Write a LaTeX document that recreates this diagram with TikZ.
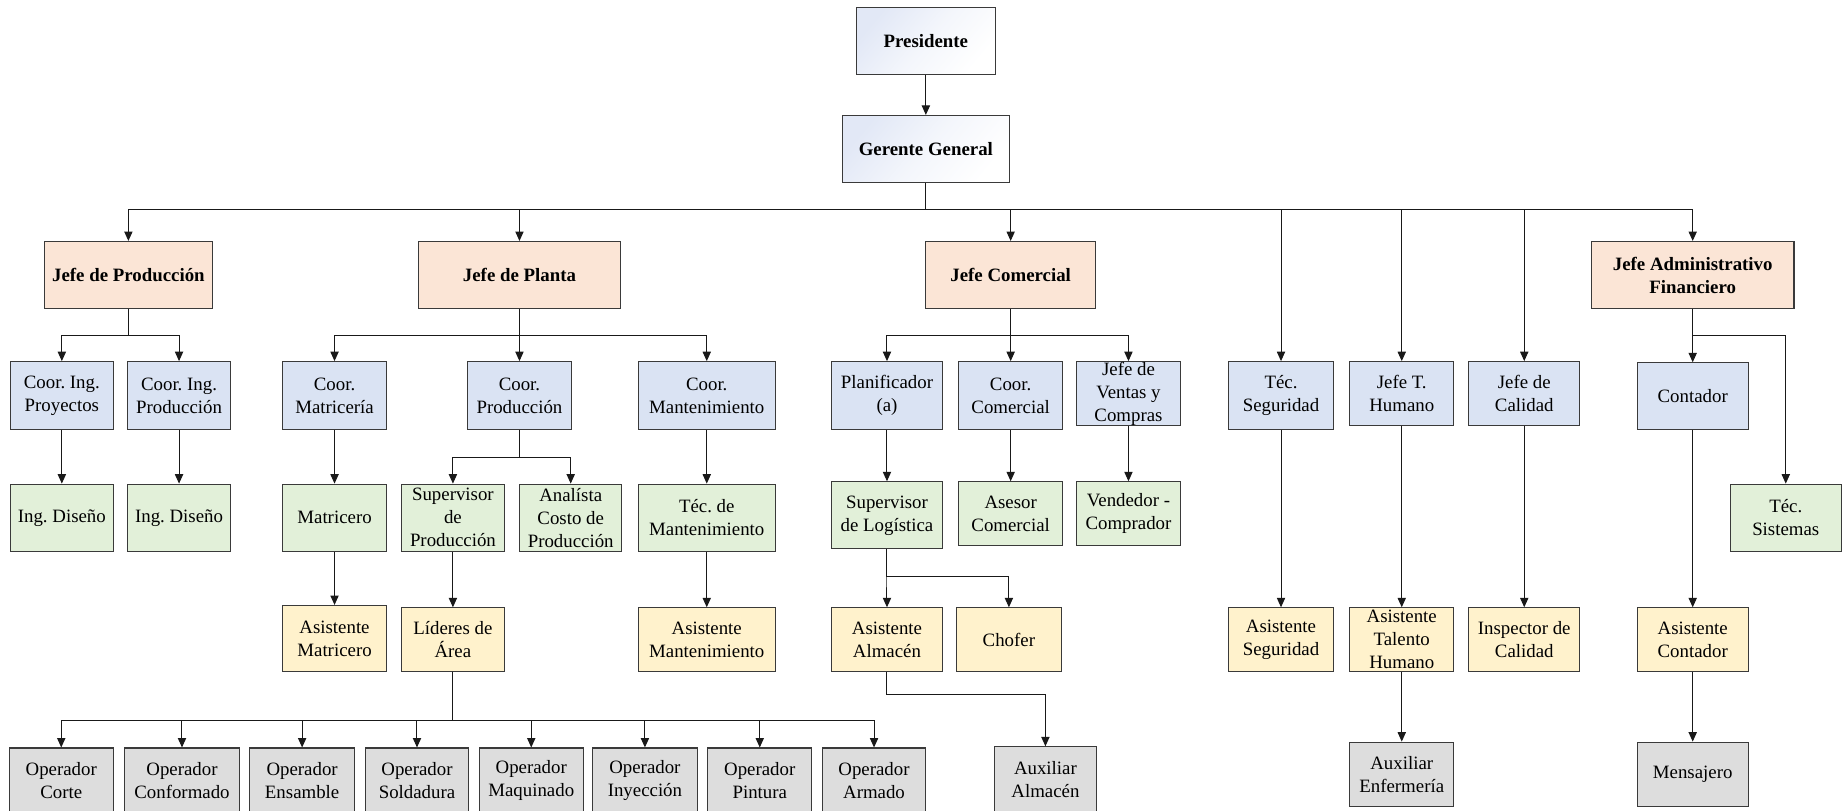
\documentclass[tikz,border=0pt]{standalone}
\usepackage{fontspec}
\setmainfont{Liberation Serif}
\usetikzlibrary{arrows.meta}

\definecolor{cTop}{HTML}{E2E8F6}
\definecolor{cJefe}{HTML}{FBE5D6}
\definecolor{cCoor}{HTML}{DAE3F3}
\definecolor{cGreen}{HTML}{E2F0D9}
\definecolor{cYellow}{HTML}{FFF2CC}
\definecolor{cGray}{HTML}{DDDDDD}
\definecolor{cEdge}{HTML}{3A3A3A}

% box: style, text style, name, x1, y1, x2, y2, text
\newcommand\orgbox[8]{%
  \node[#1, minimum width={#6-#4}, minimum height={#7-#5},
        label={[#2]center:{#8}}] (#3) at ({(#4+#6)/2},{(#5+#7)/2}) {};}
% elbow link from a parent to a child through the bus level #3
\newcommand\buslink[3]{%
  \draw[arr] (#1.south) |- (#2.north |- #3) -- (#2.north);}

\begin{document}
\frenchspacing
\begin{tikzpicture}[x=1pt, y=-1pt,
  box/.style={rectangle, draw=cEdge, line width=0.9pt, inner sep=0pt},
  topbox/.style={box, top color=cTop, bottom color=white, middle color=white!60!cTop, shading angle=50},
  jefebox/.style={box, fill=cJefe},
  coorbox/.style={box, fill=cCoor},
  greenbox/.style={box, fill=cGreen},
  yellowbox/.style={box, fill=cYellow},
  graybox/.style={box, fill=cGray},
  txt/.style={align=center, inner sep=0pt, font=\fontsize{16}{19.5}\selectfont},
  btxt/.style={txt, font=\fontsize{16}{19.5}\selectfont\bfseries},
  arr/.style={draw=black!90, line width=0.85pt, -{Triangle[length=8pt,width=7pt]}}]

\fill[white] (0,0) rectangle (1568,688);
\useasboundingbox (0,0) rectangle (1568,688);

% bus levels
\coordinate (yA) at (0,178);
\coordinate (yB) at (0,285);
\coordinate (yC) at (0,388);
\coordinate (yD) at (0,489);
\coordinate (yE) at (0,612);
\coordinate (yF) at (0,590);

% top
\orgbox{topbox}{btxt}{pres}{727}{6}{845}{63}{Presidente}
\orgbox{topbox}{btxt}{gg}{715}{98}{857}{155}{Gerente General}

% heads of area
\orgbox{jefebox}{btxt}{jprod}{38}{205}{180}{262}{Jefe de Producción}
\orgbox{jefebox}{btxt}{jplanta}{355}{205}{527}{262}{Jefe de Planta}
\orgbox{jefebox}{btxt}{jcom}{786}{205}{930}{262}{Jefe Comercial}
\orgbox{jefebox}{btxt}{jadm}{1351}{205}{1523}{262}{Jefe Administrativo\\Financiero}

% second level
\orgbox{coorbox}{txt}{cip}{9}{307}{96}{365}{Coor. Ing.\\Proyectos}
\orgbox{coorbox}{txt}{cipr}{108}{307}{196}{365}{Coor. Ing.\\Producción}
\orgbox{coorbox}{txt}{cmat}{240}{307}{328}{365}{Coor.\\Matricería}
\orgbox{coorbox}{txt}{cprod}{397}{307}{485}{365}{Coor.\\Producción}
\orgbox{coorbox}{txt}{cmant}{542}{307}{658}{365}{Coor.\\Mantenimiento}
\orgbox{coorbox}{txt}{plan}{706}{307}{800}{365}{Planificador\\(a)}
\orgbox{coorbox}{txt}{ccom}{814}{307}{902}{365}{Coor.\\Comercial}
\orgbox{coorbox}{txt}{jvc}{914}{307}{1002}{361}{Jefe de\\Ventas y\\Compras}
\orgbox{coorbox}{txt}{tseg}{1043}{307}{1132}{365}{Téc.\\Seguridad}
\orgbox{coorbox}{txt}{jth}{1146}{307}{1234}{361}{Jefe T.\\Humano}
\orgbox{coorbox}{txt}{jcal}{1247}{307}{1341}{361}{Jefe de\\Calidad}
\orgbox{coorbox}{txt}{cont}{1390}{308}{1484}{365}{Contador}

% third level
\orgbox{greenbox}{txt}{ing1}{9}{411}{96}{468}{Ing. Diseño}
\orgbox{greenbox}{txt}{ing2}{108}{411}{196}{468}{Ing. Diseño}
\orgbox{greenbox}{txt}{matr}{240}{411}{328}{468}{Matricero}
\orgbox{greenbox}{txt}{supp}{341}{411}{428}{468}{Supervisor\\de\\Producción}
\orgbox{greenbox}{txt}{anal}{441}{411}{528}{468}{Analísta\\Costo de\\Producción}
\orgbox{greenbox}{txt}{tmant}{542}{411}{658}{468}{Téc. de\\Mantenimiento}
\orgbox{greenbox}{txt}{slog}{706}{409}{800}{466}{Supervisor\\de Logística}
\orgbox{greenbox}{txt}{ases}{814}{409}{902}{463}{Asesor\\Comercial}
\orgbox{greenbox}{txt}{vend}{914}{409}{1002}{463}{Vendedor -\\Comprador}
\orgbox{greenbox}{txt}{tsis}{1469}{411}{1563}{468}{Téc.\\Sistemas}

% fourth level
\orgbox{yellowbox}{txt}{amatr}{240}{514}{328}{570}{Asistente\\Matricero}
\orgbox{yellowbox}{txt}{lider}{341}{516}{428}{570}{Líderes de\\Área}
\orgbox{yellowbox}{txt}{amant}{542}{516}{658}{570}{Asistente\\Mantenimiento}
\orgbox{yellowbox}{txt}{aalm}{706}{516}{800}{570}{Asistente\\Almacén}
\orgbox{yellowbox}{txt}{chof}{812}{516}{901}{570}{Chofer}
\orgbox{yellowbox}{txt}{aseg}{1043}{516}{1132}{570}{Asistente\\Seguridad}
\orgbox{yellowbox}{txt}{ath}{1146}{516}{1234}{570}{Asistente\\Talento\\Humano}
\orgbox{yellowbox}{txt}{insp}{1247}{516}{1341}{570}{Inspector de\\Calidad}
\orgbox{yellowbox}{txt}{acont}{1390}{516}{1484}{570}{Asistente\\Contador}

% fifth level
\orgbox{graybox}{txt}{op1}{8}{635}{96}{690}{Operador\\Corte}
\orgbox{graybox}{txt}{op2}{106}{635}{203}{690}{Operador\\Conformado}
\orgbox{graybox}{txt}{op3}{212}{635}{301}{690}{Operador\\Ensamble}
\orgbox{graybox}{txt}{op4}{310}{635}{398}{690}{Operador\\Soldadura}
\orgbox{graybox}{txt}{op5}{407}{635}{495}{690}{Operador\\Maquinado}
\orgbox{graybox}{txt}{op6}{503}{635}{592}{690}{Operador\\Inyección}
\orgbox{graybox}{txt}{op7}{601}{635}{689}{690}{Operador\\Pintura}
\orgbox{graybox}{txt}{op8}{698}{635}{786}{690}{Operador\\Armado}
\orgbox{graybox}{txt}{aux}{844}{634}{931}{690}{Auxiliar\\Almacén}
\orgbox{graybox}{txt}{aenf}{1146}{630}{1234}{685}{Auxiliar\\Enfermería}
\orgbox{graybox}{txt}{mens}{1390}{630}{1484}{685}{Mensajero}

% connectors
\draw[arr] (pres) -- (gg);
\foreach \c in {jprod,jplanta,jcom,tseg,jth,jcal,jadm} {\buslink{gg}{\c}{yA}}
\foreach \c in {cip,cipr} {\buslink{jprod}{\c}{yB}}
\foreach \c in {cmat,cprod,cmant} {\buslink{jplanta}{\c}{yB}}
\foreach \c in {plan,ccom,jvc} {\buslink{jcom}{\c}{yB}}
\foreach \c in {cont,tsis} {\buslink{jadm}{\c}{yB}}
\foreach \c in {supp,anal} {\buslink{cprod}{\c}{yC}}
\foreach \c in {aalm,chof} {\buslink{slog}{\c}{yD}}
\foreach \c in {op1,op2,op3,op4,op5,op6,op7,op8} {\buslink{lider}{\c}{yE}}
\buslink{aalm}{aux}{yF}

\draw[arr] (cip) -- (ing1);
\draw[arr] (cipr) -- (ing2);
\draw[arr] (cmat) -- (matr);
\draw[arr] (matr) -- (amatr);
\draw[arr] (supp) -- (lider);
\draw[arr] (cmant) -- (tmant);
\draw[arr] (tmant) -- (amant);
\draw[arr] (plan) -- (slog);
\draw[arr] (ccom) -- (ases);
\draw[arr] (jvc) -- (vend);
\draw[arr] (tseg) -- (aseg);
\draw[arr] (jth) -- (ath);
\draw[arr] (ath) -- (aenf);
\draw[arr] (jcal) -- (insp);
\draw[arr] (cont) -- (acont);
\draw[arr] (acont) -- (mens);
\end{tikzpicture}
\end{document}
